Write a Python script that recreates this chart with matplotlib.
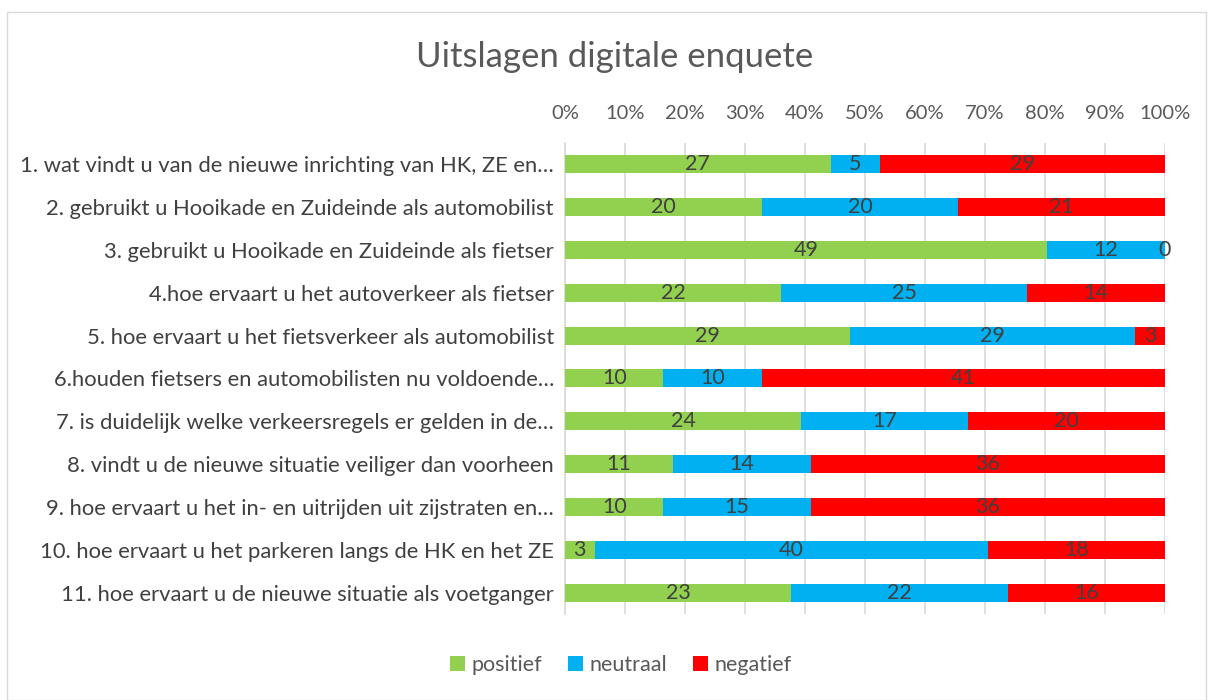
import matplotlib.pyplot as plt
import numpy as np
from matplotlib.patches import Rectangle
from matplotlib.ticker import PercentFormatter

plt.rcParams['font.family'] = ['Lato', 'DejaVu Sans']

questions = [
    "1. wat vindt u van de nieuwe inrichting van HK, ZE en…",
    "2. gebruikt u Hooikade en Zuideinde als automobilist",
    "3. gebruikt u Hooikade en Zuideinde als fietser",
    "4.hoe ervaart u het autoverkeer als fietser",
    "5. hoe ervaart u het fietsverkeer als automobilist",
    "6.houden fietsers en automobilisten nu voldoende…",
    "7. is duidelijk welke verkeersregels er gelden in de…",
    "8. vindt u de nieuwe situatie veiliger dan voorheen",
    "9. hoe ervaart u het in- en uitrijden uit zijstraten en…",
    "10. hoe ervaart u het parkeren langs de HK en het ZE",
    "11. hoe ervaart u de nieuwe situatie als voetganger",
]
positief = [27, 20, 49, 22, 29, 10, 24, 11, 10, 3, 23]
neutraal = [5, 20, 12, 25, 29, 10, 17, 14, 15, 40, 22]
negatief = [29, 21, 0, 14, 3, 41, 20, 36, 36, 18, 16]

series = [("positief", positief, "#92D050"),
          ("neutraal", neutraal, "#00B0F0"),
          ("negatief", negatief, "#FF0000")]

counts = np.array([positief, neutraal, negatief], dtype=float)
totals = counts.sum(axis=0)

fig = plt.figure(figsize=(12.08, 7.0), dpi=100)
fig.patches.append(Rectangle((7 / 1208, 0.0), 1199 / 1208, 688 / 700,
                             transform=fig.transFigure, fill=False,
                             edgecolor="#D9D9D9", lw=1))

ax = fig.add_axes([565 / 1208, 0.1229, 600 / 1208, 0.6728])

y = np.arange(len(questions))
left = np.zeros(len(questions))
for name, vals, color in series:
    share = np.array(vals) / totals
    bars = ax.barh(y, share, left=left, height=0.42, color=color,
                   label=name, zorder=3)
    for b, v in zip(bars, vals):
        cx = b.get_x() + b.get_width() / 2
        ax.text(cx, b.get_y() + b.get_height() / 2, str(v),
                ha="center", va="center", fontsize=15.5, color="#404040",
                zorder=4)
    left += share

ax.set_xlim(0, 1)
ax.set_ylim(len(questions) - 0.5, -0.5)
ax.set_yticks(y)
ax.set_yticklabels(questions, fontsize=15.8, color="#404040")
ax.set_xticks(np.linspace(0, 1, 11))
ax.xaxis.set_major_formatter(PercentFormatter(1.0, decimals=0))
ax.xaxis.tick_top()
ax.tick_params(axis="x", length=0, labelsize=14.5, labelcolor="#595959", pad=15)
ax.tick_params(axis="y", length=0, pad=8)
ax.grid(axis="x", color="#D9D9D9", lw=1.2, zorder=0)
for s in ["top", "right", "bottom"]:
    ax.spines[s].set_visible(False)
ax.spines["left"].set_color("#D9D9D9")
ax.spines["left"].set_linewidth(1.2)

fig.text(615 / 1208, 1 - 57 / 700, "Uitslagen digitale enquete",
         ha="center", va="center", fontsize=25, color="#595959")

fig.legend(loc="center", bbox_to_anchor=(621 / 1208, 1 - 665 / 700),
           ncol=3, frameon=False, fontsize=15.5, handlelength=0.7,
           handleheight=0.7, handletextpad=0.3, columnspacing=1.2,
           labelcolor="#595959")

fig.savefig("out.png", dpi=100)
